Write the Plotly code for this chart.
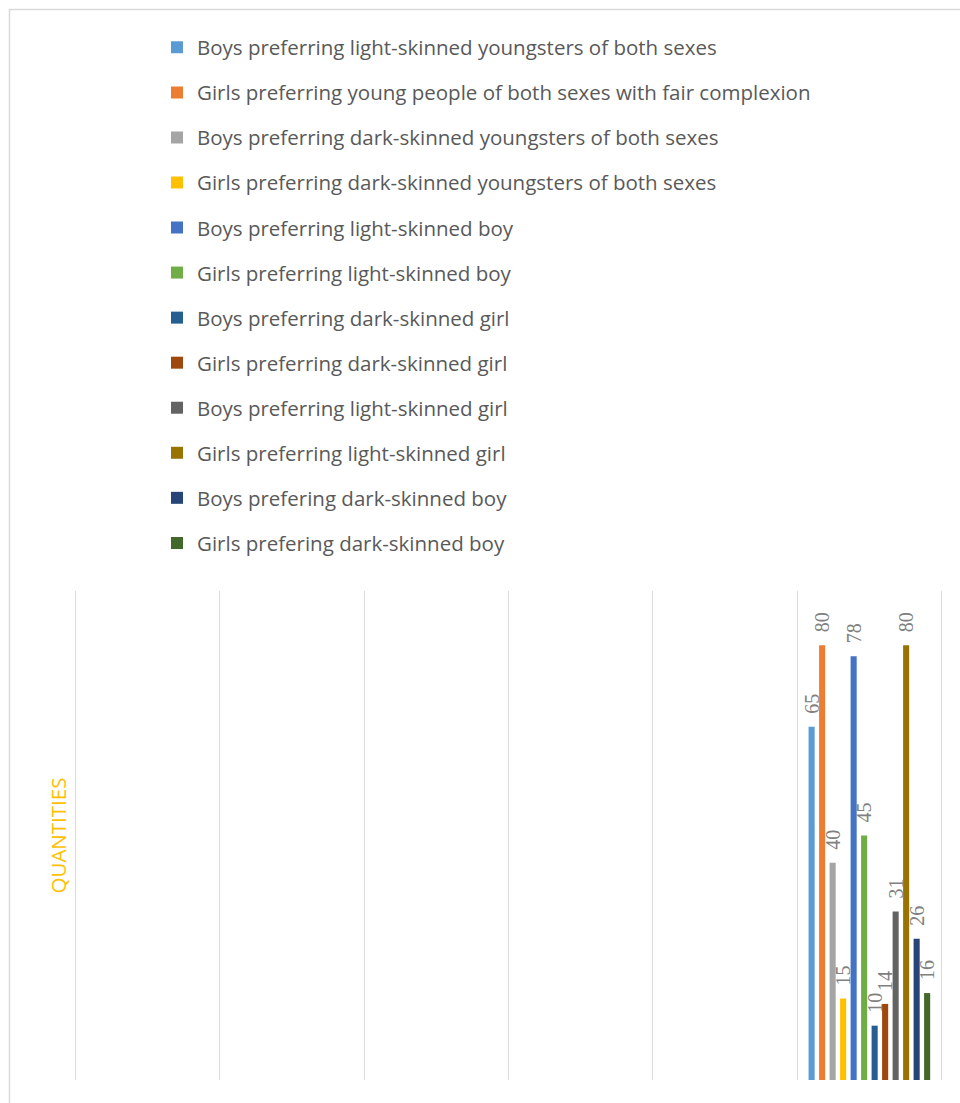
import plotly.graph_objects as go

# Survey results: preferences by respondent group
series_names = [
    "Boys preferring light-skinned youngsters of both sexes",
    "Girls preferring young people of both sexes with fair complexion",
    "Boys preferring dark-skinned youngsters of both sexes",
    "Girls preferring dark-skinned youngsters of both sexes",
    "Boys preferring light-skinned boy",
    "Girls preferring light-skinned boy",
    "Boys preferring dark-skinned girl",
    "Girls preferring dark-skinned girl",
    "Boys preferring light-skinned girl",
    "Girls preferring light-skinned girl",
    "Boys prefering dark-skinned boy",
    "Girls prefering dark-skinned boy",
]
series_values = [65, 80, 40, 15, 78, 45, 10, 14, 31, 80, 26, 16]
series_colors = [
    "#5B9BD5", "#ED7D31", "#A5A5A5", "#FFC000", "#4472C4", "#70AD47",
    "#255E91", "#9E480E", "#636363", "#997300", "#264478", "#43682B",
]
group_position = [5.5]
grid_positions = [0, 1, 2, 3, 4, 5, 6]

fig = go.Figure()
for i, (name, val, col) in enumerate(zip(series_names, series_values, series_colors)):
    fig.add_trace(go.Bar(
        x=group_position,
        y=[val],
        name=name,
        legendgroup=f"g{i}",
        marker=dict(color=col, line=dict(width=0)),
        text=[str(val)],
        # two no-break spaces lift the rotated label clear of the bar top
        texttemplate="\u00a0\u00a0%{text}",
        textposition="outside",
        textangle=-90,
        constraintext="none",
        cliponaxis=False,
        textfont=dict(family="Liberation Serif", size=20, color="#808080"),
    ))

L, R, T, B = 61, 4, 591, 23
W, H = 960, 1103
plot_w = W - L - R
plot_h = H - T - B

def px_x(px):
    return (px - L) / plot_w

def px_y(py):
    return (H - B - py) / plot_h

fig.update_layout(
    width=W,
    height=H,
    margin=dict(l=L, r=R, t=T, b=B),
    paper_bgcolor="white",
    plot_bgcolor="white",
    barmode="group",
    bargap=0.127,
    bargroupgap=0.42,
    showlegend=True,
    legend=dict(
        x=px_x(157),
        y=px_y(27.5),
        xanchor="left",
        yanchor="top",
        traceorder="grouped",
        tracegroupgap=15.4,
        maxheight=1000,
        font=dict(family="Open Sans", size=20.5, color="#595959"),
        bgcolor="rgba(0,0,0,0)",
    ),
    xaxis=dict(
        range=[-0.1, 6.1],
        tickvals=grid_positions,
        showticklabels=False,
        showgrid=True,
        gridcolor="#D9D9D9",
        gridwidth=1,
        zeroline=False,
        showline=False,
        ticks="",
        fixedrange=True,
    ),
    yaxis=dict(
        range=[0, 90],
        showgrid=False,
        showticklabels=False,
        zeroline=False,
        showline=False,
        ticks="",
        fixedrange=True,
    ),
    annotations=[
        dict(
            text="QUANTITIES",
            xref="paper", yref="paper",
            x=px_x(57), y=0.5,
            xanchor="center", yanchor="middle",
            textangle=-90,
            showarrow=False,
            font=dict(family="Open Sans", size=20.5, color="#FFC000"),
        )
    ],
    shapes=[
        dict(
            type="rect",
            xref="paper", yref="paper",
            x0=px_x(9.5), x1=px_x(1000),
            y0=px_y(1200), y1=px_y(9.5),
            line=dict(color="#D9D9D9", width=1.5),
            fillcolor="rgba(0,0,0,0)",
            layer="below",
        )
    ],
)

fig.write_html("out.html")
